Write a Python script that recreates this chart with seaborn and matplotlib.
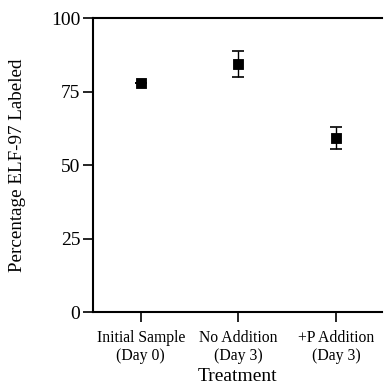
import pandas as pd
import matplotlib
matplotlib.use("Agg")
import matplotlib.pyplot as plt
import seaborn as sns

# values
treatments = ["Initial Sample\n(Day 0)", "No Addition\n(Day 3)", "+P Addition\n(Day 3)"]
pct_labeled = [78.0, 84.5, 59.2]
err = [0.0, 4.4, 3.9]
y_ticks = [0, 25, 50, 75, 100]

data = pd.DataFrame({"Treatment": treatments, "pct": pct_labeled, "err": err})

sns.set_style("white")
plt.rcParams["font.family"] = ["Liberation Serif", "DejaVu Serif"]
plt.rcParams["text.color"] = "black"
plt.rcParams["axes.labelcolor"] = "black"
plt.rcParams["xtick.color"] = "black"
plt.rcParams["ytick.color"] = "black"

fig = plt.figure(figsize=(3.84, 3.92), dpi=100)
ax = fig.add_axes([0.242, 0.204, 0.753, 0.75])

sns.scatterplot(data=data, x="Treatment", y="pct", marker="s", s=60,
                color="black", edgecolor="black", ax=ax, zorder=3)
ax.errorbar(range(len(treatments)), data["pct"], yerr=data["err"], fmt="none",
            ecolor="black", elinewidth=1.0, capsize=4, capthick=1.2)

ax.set_xlim(-0.49, 2.47)
ax.set_ylim(0, 100)
ax.set_yticks(y_ticks)
ax.set_xticks(range(len(treatments)))
ax.set_xticklabels(treatments, fontsize=11.3, linespacing=1.15)
ax.tick_params(axis="y", labelsize=14, length=7, width=1.2, direction="out", left=True, pad=2)
ax.tick_params(axis="x", length=7, width=1.2, direction="out", bottom=True, pad=6)

for side in ["left", "bottom", "top"]:
    ax.spines[side].set_color("black")
    ax.spines[side].set_linewidth(1.5)
ax.spines["right"].set_visible(False)

ax.set_ylabel("Percentage ELF-97 Labeled", fontsize=13.7, labelpad=18)
ax.set_xlabel("Treatment", fontsize=14, labelpad=3)

fig.savefig("out.png", dpi=100)
